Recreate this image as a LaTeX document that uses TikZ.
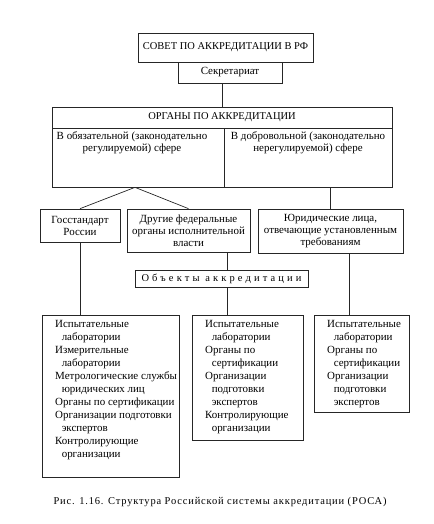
\documentclass[tikz,border=0pt]{standalone}
\usepackage{fontspec}
\setmainfont{Liberation Serif}
\newfontfamily\spacedfont[LetterSpace=30]{Liberation Serif}
\newfontfamily\capfont[LetterSpace=8]{Liberation Serif}

\begin{document}
\begin{tikzpicture}[x=1bp,y=-1bp]
   \tikzstyle{every node}=[font=\fontsize{11}{12}\selectfont, inner sep=0pt]
   \tikzstyle{box}=[draw=black!85, line width=0.7pt, align=center]
   \tikzstyle{caps}=[font=\fontsize{10.5}{12}\selectfont]
   \tikzstyle{link}=[draw=black!85, line width=0.7pt]
   \tikzstyle{list}=[anchor=north west, align=left, inner xsep=13bp, inner ysep=5bp, font=\fontsize{11}{13.1}\selectfont]

\useasboundingbox (0,0) rectangle (434,524);

\node[box, caps, minimum width=175bp, minimum height=29bp] (sovet) at (225.5,47.5) {СОВЕТ ПО АККРЕДИТАЦИИ В РФ};
\node[box, minimum width=104bp, minimum height=21bp, fill=white] (sekr) at (230,72.5) {Секретариат};

\node[box, caps, minimum width=340bp, minimum height=21bp] (org) at (222,117.5) {ОРГАНЫ ПО АККРЕДИТАЦИИ};
\node[box, minimum width=172bp, minimum height=59bp] (cellL) at (138,157.5) {};
\node[box, minimum width=168bp, minimum height=59bp] (cellR) at (308,157.5) {};
\node[anchor=north, align=center, inner sep=4bp] (oblText) at ([xshift=-6bp]cellL.north) {В обязательной (законодательно\\регулируемой) сфере};
\node[anchor=north, align=center, inner sep=4bp] (dobrText) at (cellR.north) {В добровольной (законодательно\\нерегулируемой) сфере};

\node[box, minimum width=80bp, minimum height=33bp] (gost) at (80,225.5) {Госстандарт\\России};
\node[box, minimum width=123bp, minimum height=43bp] (drug) at (188.5,230.5) {Другие федеральные\\органы исполнительной\\власти};
\node[box, minimum width=145bp, minimum height=44bp] (jur) at (330.5,231) {Юридические лица,\\отвечающие установленным\\требованиям};

\node[box, caps, minimum width=173bp, minimum height=17bp] (obj) at (221.5,278.5) {\spacedfont Объекты аккредитации};

\node[box, minimum width=137bp, minimum height=162bp, anchor=north west] (labL) at (42,315) {};
\node[box, minimum width=111bp, minimum height=125bp, anchor=north west] (labM) at (192,315) {};
\node[box, minimum width=95bp, minimum height=97bp, anchor=north west] (labR) at (314,315) {};

\node[list] (labLText) at (labL.north west) {Испытательные\\\hspace*{0.6em}лаборатории\\Измерительные\\\hspace*{0.6em}лаборатории\\Метрологические службы\\\hspace*{0.6em}юридических лиц\\Органы по сертификации\\Организации подготовки\\\hspace*{0.6em}экспертов\\Контролирующие\\\hspace*{0.6em}организации};
\node[list] (labMText) at (labM.north west) {Испытательные\\\hspace*{0.6em}лаборатории\\Органы по\\\hspace*{0.6em}сертификации\\Организации\\\hspace*{0.6em}подготовки\\\hspace*{0.6em}экспертов\\Контролирующие\\\hspace*{0.6em}организации};
\node[list] (labRText) at (labR.north west) {Испытательные\\\hspace*{0.6em}лаборатории\\Органы по\\\hspace*{0.6em}сертификации\\Организации\\\hspace*{0.6em}подготовки\\\hspace*{0.6em}экспертов};

\node[font=\fontsize{10.5}{12}\selectfont\capfont] (caption) at (220,502) {Рис. 1.16. Структура Российской системы аккредитации (РОСА)};

\draw[link] (org.north |- sekr.south) -- (org.north);
\draw[link] ([xshift=-3bp]cellL.south) -- (gost.north);
\draw[link] ([xshift=-3bp]cellL.south) -- (drug.north);
\draw[link] (jur.north |- cellR.south) -- (jur.north);
\draw[link] (gost.south) -- (gost.south |- labL.north);
\draw[link] ([xshift=6bp]obj.north |- drug.south) -- ([xshift=6bp]obj.north);
\draw[link] ([xshift=6bp]obj.south) -- ([xshift=6bp]obj.south |- labM.north);
\draw[link] ([xshift=19bp]jur.south) -- ([xshift=19bp]jur.south |- labR.north);

\end{tikzpicture}
\end{document}
